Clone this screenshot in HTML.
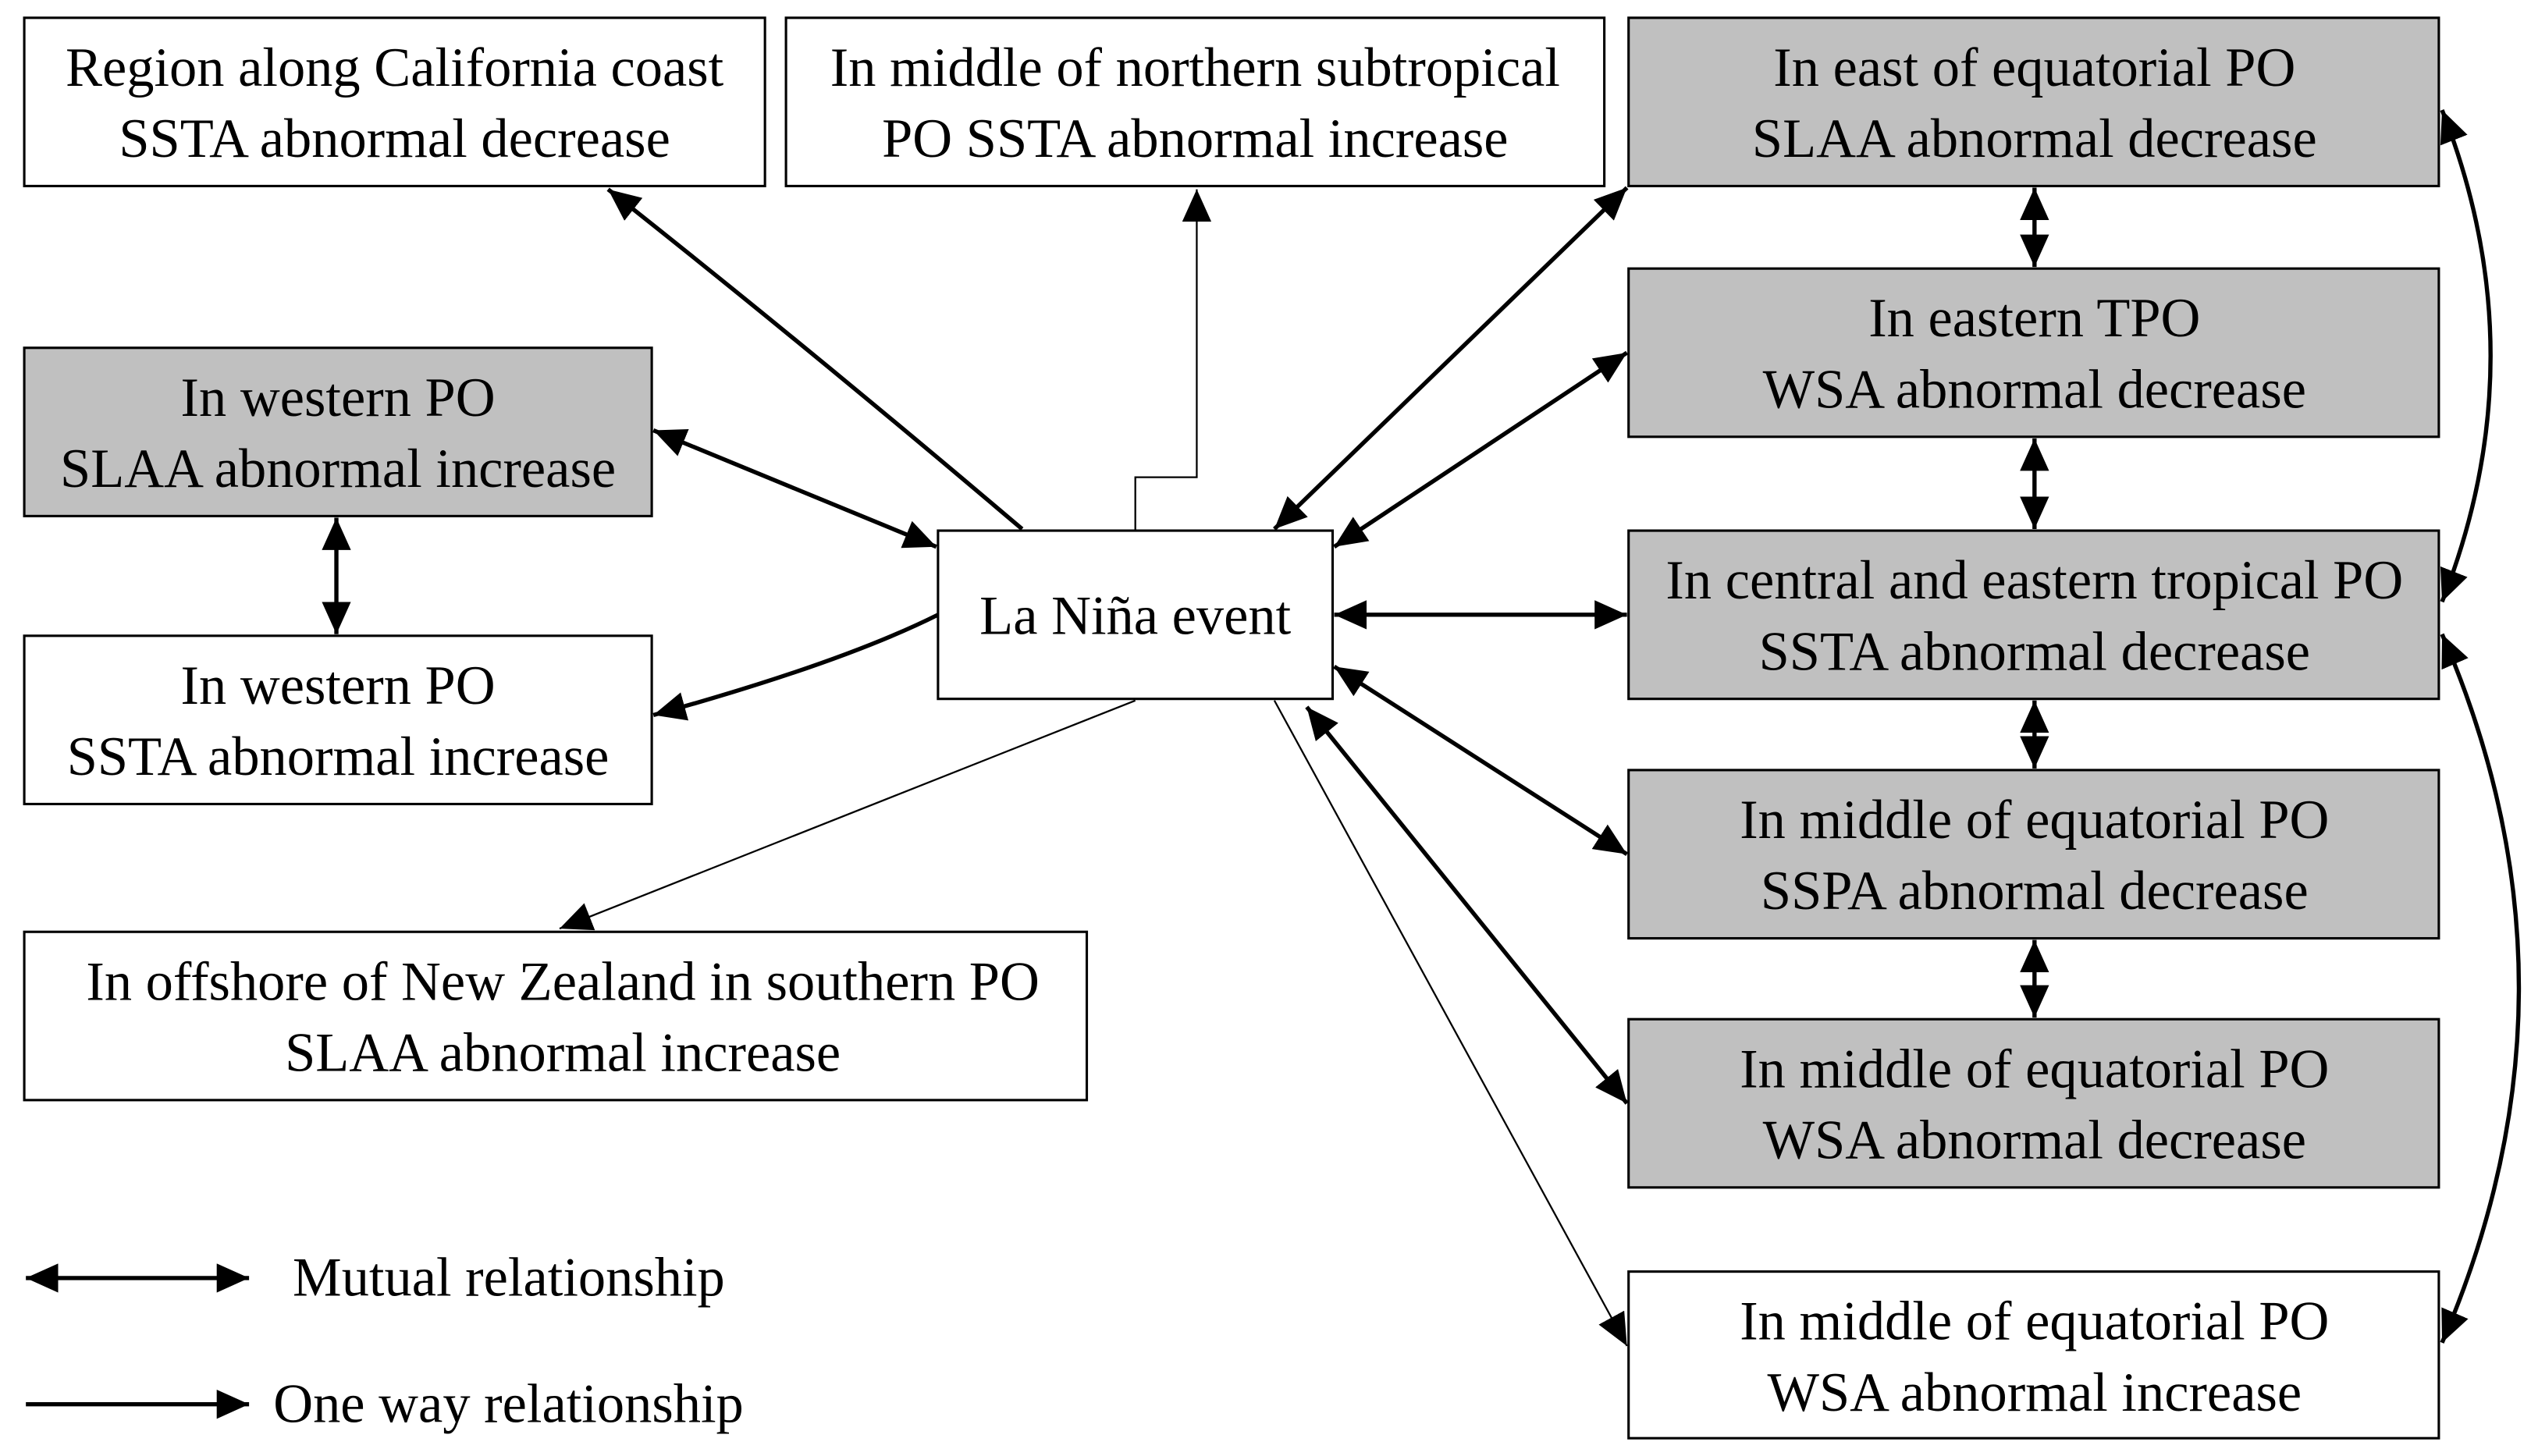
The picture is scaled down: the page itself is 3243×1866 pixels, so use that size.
<!DOCTYPE html>
<html><head><meta charset="utf-8"><style>
html,body{margin:0;padding:0;background:#fff;}
svg{display:block;}
text{font-family:"Liberation Serif","Times New Roman",serif;font-size:34px;fill:#000;}
</style></head><body>
<svg width="3243" height="1866" viewBox="0 0 1565 900" preserveAspectRatio="none" xmlns="http://www.w3.org/2000/svg">
<defs>
<marker id="a" markerUnits="userSpaceOnUse" markerWidth="22" markerHeight="18" refX="20" refY="9" orient="auto-start-reverse"><path d="M0,0 L20,9 L0,18 Z" fill="#000"/></marker>
</defs>
<g stroke="#000" stroke-width="1.5">
<rect x="15" y="11" width="458" height="104" fill="#fff"/>
<rect x="486" y="11" width="506" height="104" fill="#fff"/>
<rect x="1007" y="11" width="501" height="104" fill="#c0c0c0"/>
<rect x="1007" y="166" width="501" height="104" fill="#c0c0c0"/>
<rect x="1007" y="328" width="501" height="104" fill="#c0c0c0"/>
<rect x="1007" y="476" width="501" height="104" fill="#c0c0c0"/>
<rect x="1007" y="630" width="501" height="104" fill="#c0c0c0"/>
<rect x="1007" y="786" width="501" height="103" fill="#fff"/>
<rect x="15" y="215" width="388" height="104" fill="#c0c0c0"/>
<rect x="15" y="393" width="388" height="104" fill="#fff"/>
<rect x="15" y="576" width="657" height="104" fill="#fff"/>
<rect x="580" y="328" width="244" height="104" fill="#fff"/>
</g>
<g stroke="#000" stroke-width="2.6" fill="none">
<path d="M632,327 Q500,215 376,117" marker-end="url(#a)"/>
<path d="M404,266 L579,338" marker-start="url(#a)" marker-end="url(#a)"/>
<path d="M580,380 Q520,410 404,442" marker-end="url(#a)"/>
<path d="M208,320 L208,392" marker-start="url(#a)" marker-end="url(#a)"/>
<path d="M788,327 L1006,116" marker-start="url(#a)" marker-end="url(#a)"/>
<path d="M825,338 L1006,218" marker-start="url(#a)" marker-end="url(#a)"/>
<path d="M825,380 L1006,380" marker-start="url(#a)" marker-end="url(#a)"/>
<path d="M825,412 L1006,528" marker-start="url(#a)" marker-end="url(#a)"/>
<path d="M808,437 L1006,682" marker-start="url(#a)" marker-end="url(#a)"/>
<path d="M1258,116 L1258,165" marker-start="url(#a)" marker-end="url(#a)"/>
<path d="M1258,271 L1258,327" marker-start="url(#a)" marker-end="url(#a)"/>
<path d="M1258,433 L1258,475" marker-start="url(#a)" marker-end="url(#a)"/>
<path d="M1258,581 L1258,629" marker-start="url(#a)" marker-end="url(#a)"/>
<path d="M1510,68 Q1570,220 1510,372" marker-start="url(#a)" marker-end="url(#a)"/>
<path d="M1510,392 Q1605,610 1510,830" marker-start="url(#a)" marker-end="url(#a)"/>
<path d="M16,790 L154,790" marker-start="url(#a)" marker-end="url(#a)"/>
<path d="M16,868 L154,868" marker-end="url(#a)"/>
</g>
<g stroke="#000" stroke-width="1.1" fill="none">
<path d="M702,328 L702,295 L740,295 L740,117" marker-end="url(#a)"/>
<path d="M702,433 L346,574" marker-end="url(#a)"/>
<path d="M788,433 L1006,832" marker-end="url(#a)"/>
</g>
<g text-anchor="middle">
<text x="244" y="53">Region along California coast</text>
<text x="244" y="97">SSTA abnormal decrease</text>
<text x="739" y="53">In middle of northern subtropical</text>
<text x="739" y="97">PO SSTA abnormal increase</text>
<text x="1258" y="53">In east of equatorial PO</text>
<text x="1258" y="97">SLAA abnormal decrease</text>
<text x="1258" y="208">In eastern TPO</text>
<text x="1258" y="252">WSA abnormal decrease</text>
<text x="1258" y="370">In central and eastern tropical PO</text>
<text x="1258" y="414">SSTA abnormal decrease</text>
<text x="1258" y="518">In middle of equatorial PO</text>
<text x="1258" y="562">SSPA abnormal decrease</text>
<text x="1258" y="672">In middle of equatorial PO</text>
<text x="1258" y="716">WSA abnormal decrease</text>
<text x="1258" y="828">In middle of equatorial PO</text>
<text x="1258" y="872">WSA abnormal increase</text>
<text x="209" y="257">In western PO</text>
<text x="209" y="301">SLAA abnormal increase</text>
<text x="209" y="435">In western PO</text>
<text x="209" y="479">SSTA abnormal increase</text>
<text x="348" y="618">In offshore of New Zealand in southern PO</text>
<text x="348" y="662">SLAA abnormal increase</text>
<text x="702" y="392">La Niña event</text>
</g>
<text x="181" y="801">Mutual relationship</text>
<text x="169" y="879">One way relationship</text>
</svg>
</body></html>
